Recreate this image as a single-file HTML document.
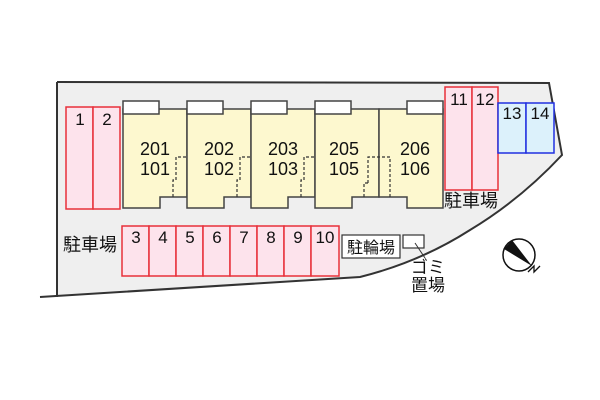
<!DOCTYPE html>
<html><head><meta charset="utf-8"><style>
html,body{margin:0;padding:0;background:#fff;width:600px;height:400px;overflow:hidden}
svg text{font-family:"Liberation Sans","Noto Sans CJK JP",sans-serif;fill:#111}
</style></head><body>
<svg width="600" height="400" viewBox="0 0 600 400" xmlns="http://www.w3.org/2000/svg">
<path d="M57,82 L549,83 L562,155 Q520,200 470,230 Q420,262 360,277 L57,296 Z" fill="#efefef"/>
<path d="M57,82 L549,83 L562,155 Q520,200 470,230 Q420,262 360,277 L40,297" fill="none" stroke="#333" stroke-width="2"/>
<line x1="57" y1="82" x2="57" y2="297" stroke="#333" stroke-width="2"/>

<g fill="#fdf8cf" stroke="#444" stroke-width="1.5">
<path d="M123,109 H187 V197 H160 V208 H123 Z"/>
<path d="M187,109 H251 V197 H224 V208 H187 Z"/>
<path d="M251,109 H315 V197 H288 V208 H251 Z"/>
<path d="M315,109 H379 V197 H352 V208 H315 Z"/>
<path d="M379,109 H443 V208 H407 V197 H379 Z"/>
</g>
<g fill="#fff" stroke="#444" stroke-width="1.5">
<rect x="123" y="101" width="36" height="13"/>
<rect x="187" y="101" width="36" height="13"/>
<rect x="251" y="101" width="36" height="13"/>
<rect x="315" y="101" width="36" height="13"/>
<rect x="407" y="101" width="36" height="13"/>
</g>
<g fill="none" stroke="#333" stroke-width="1.2" stroke-dasharray="3,2">
<path d="M186,157 H176 V180 H173 V197"/>
<path d="M250,157 H240 V180 H237 V197"/>
<path d="M314,157 H304 V180 H301 V197"/>
<path d="M368,183 V157 H390 V197"/>
<path d="M368,183 H364 V197"/>
</g>
<g font-size="18" text-anchor="middle">
<text x="155" y="155">201</text><text x="155" y="175">101</text>
<text x="219" y="155">202</text><text x="219" y="175">102</text>
<text x="283" y="155">203</text><text x="283" y="175">103</text>
<text x="344" y="155">205</text><text x="344" y="175">105</text>
<text x="415" y="155">206</text><text x="415" y="175">106</text>
</g>

<g fill="#fde3ec" stroke="#e8303a" stroke-width="1.5">
<rect x="66" y="107" width="27" height="102"/><rect x="93" y="107" width="27" height="102"/>
<rect x="122" y="226" width="27" height="50"/><rect x="149" y="226" width="27" height="50"/>
<rect x="176" y="226" width="27" height="50"/><rect x="203" y="226" width="27" height="50"/>
<rect x="230" y="226" width="27" height="50"/><rect x="257" y="226" width="27" height="50"/>
<rect x="284" y="226" width="27" height="50"/><rect x="311" y="226" width="28" height="50"/>
<rect x="445" y="87" width="27" height="103"/><rect x="472" y="87" width="26" height="103"/>
</g>
<g fill="#dcf1fb" stroke="#2030e0" stroke-width="1.5">
<rect x="498" y="103" width="28" height="50"/><rect x="526" y="103" width="28" height="50"/>
</g>
<g font-size="17" text-anchor="middle">
<text x="80" y="125">1</text><text x="107" y="125">2</text>
<text x="136" y="243">3</text><text x="163" y="243">4</text><text x="190" y="243">5</text>
<text x="217" y="243">6</text><text x="244" y="243">7</text><text x="271" y="243">8</text>
<text x="298" y="243">9</text><text x="325" y="243">10</text>
<text x="459" y="105">11</text><text x="485" y="105">12</text>
<text x="512" y="119">13</text><text x="540" y="119">14</text>
</g>
<text x="90" y="251" font-size="18" text-anchor="middle">駐車場</text>
<text x="471" y="207" font-size="18" text-anchor="middle">駐車場</text>

<rect x="342" y="235" width="58" height="23" fill="#fff" stroke="#333" stroke-width="1.2"/>
<text x="371" y="253" font-size="16" text-anchor="middle">駐輪場</text>
<rect x="403" y="235" width="21" height="13" fill="#fff" stroke="#333" stroke-width="1.2"/>
<line x1="415" y1="243" x2="425" y2="258" stroke="#333" stroke-width="1"/>
<text x="428" y="273" font-size="17" text-anchor="middle">ゴミ</text>
<text x="428" y="291" font-size="17" text-anchor="middle">置場</text>

<circle cx="519" cy="255" r="16" fill="#fff" stroke="#111" stroke-width="1.5"/>
<path d="M504,249 L512,240 L532,266 Z" fill="#111"/>
<path d="M528,272 L534,266 L534,272 L540,266" fill="none" stroke="#111" stroke-width="1.3"/>
</svg>
</body></html>
